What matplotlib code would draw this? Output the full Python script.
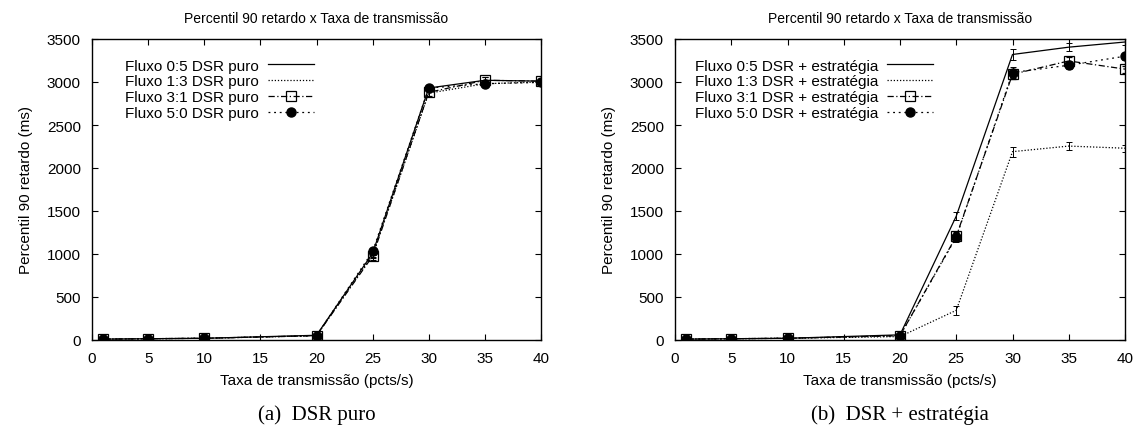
import matplotlib
matplotlib.use("Agg")
import matplotlib.pyplot as plt
from matplotlib.lines import Line2D

plt.rcParams['font.family'] = ['Liberation Sans', 'DejaVu Sans']

# taxa de transmissao (pcts/s)
taxa = [1, 5, 10, 20, 25, 30, 35, 40]

# (a) DSR puro
puro_05 = [10, 15, 20, 55, 1010, 2930, 3020, 3010]
puro_13 = [10, 15, 20, 50, 990, 2870, 2980, 3000]
puro_31 = [10, 15, 20, 50, 975, 2880, 3020, 3010]
puro_50 = [10, 15, 20, 50, 1030, 2930, 2980, 2995]
puro_err = [8, 8, 8, 10, 40, 40, 40, 30]

# (b) DSR + estrategia
estr_05 = [10, 15, 20, 60, 1440, 3320, 3405, 3465]
estr_13 = [10, 15, 20, 40, 345, 2190, 2255, 2230]
estr_31 = [10, 15, 20, 50, 1205, 3090, 3245, 3150]
estr_50 = [10, 15, 20, 50, 1195, 3110, 3195, 3300]
estr_err = [8, 8, 8, 10, 50, 60, 45, 40]

labels_a = ['Fluxo 0:5 DSR puro', 'Fluxo 1:3 DSR puro',
            'Fluxo 3:1 DSR puro', 'Fluxo 5:0 DSR puro']
labels_b = ['Fluxo 0:5 DSR + estratégia', 'Fluxo 1:3 DSR + estratégia',
            'Fluxo 3:1 DSR + estratégia', 'Fluxo 5:0 DSR + estratégia']

styles = [
    dict(linestyle='-', marker=None),
    dict(linestyle=(0, (1, 1.5)), marker=None),
    dict(linestyle=(0, (5, 2, 1, 2)), marker='s', mfc='none', ms=7, mew=0.9),
    dict(linestyle=(0, (1.5, 3)), marker='o', mfc='black', ms=6.5),
]

fig = plt.figure(figsize=(11.42, 4.35), dpi=100)
ax1 = fig.add_axes([92 / 1142, 94 / 435, 449 / 1142, 301 / 435])
ax2 = fig.add_axes([675 / 1142, 94 / 435, 450 / 1142, 301 / 435])


def draw(ax, series, err, labels, caption, leg_x):
    handles = []
    for ys, st, lab in zip(series, styles, labels):
        ax.errorbar(taxa, ys, yerr=err, color='black', lw=0.9, elinewidth=0.7,
                    capsize=2, capthick=0.7, **st)
        handles.append(Line2D([], [], color='black', lw=0.9, label=lab, **st))
    ax.set_xlim(0, 40)
    ax.set_ylim(0, 3500)
    ax.set_xticks(range(0, 41, 5))
    ax.set_yticks(range(0, 3501, 500))
    ax.tick_params(direction='in', top=True, right=True, length=4,
                   labelsize=11, pad=8)
    for s in ax.spines.values():
        s.set_linewidth(1.0)
    ax.set_title('Percentil 90 retardo x Taxa de transmissão', fontsize=10, pad=12)
    ax.set_xlabel('Taxa de transmissão (pcts/s)', fontsize=11, labelpad=6)
    ax.set_ylabel('Percentil 90 retardo (ms)', fontsize=11, labelpad=10)
    ax.legend(handles=handles, loc='upper left', bbox_to_anchor=(leg_x, 0.955),
              frameon=False, markerfirst=False, fontsize=11, handlelength=3.0,
              labelspacing=0.12, handletextpad=0.6, borderaxespad=0)
    ax.text(0.5, -0.215, caption, transform=ax.transAxes, ha='center',
            va='top', fontsize=15, family='Liberation Serif')


draw(ax1, [puro_05, puro_13, puro_31, puro_50], puro_err, labels_a,
     '(a)  DSR puro', 0.06)
draw(ax2, [estr_05, estr_13, estr_31, estr_50], estr_err, labels_b,
     '(b)  DSR + estratégia', 0.03)

fig.savefig('out.png', dpi=100)
